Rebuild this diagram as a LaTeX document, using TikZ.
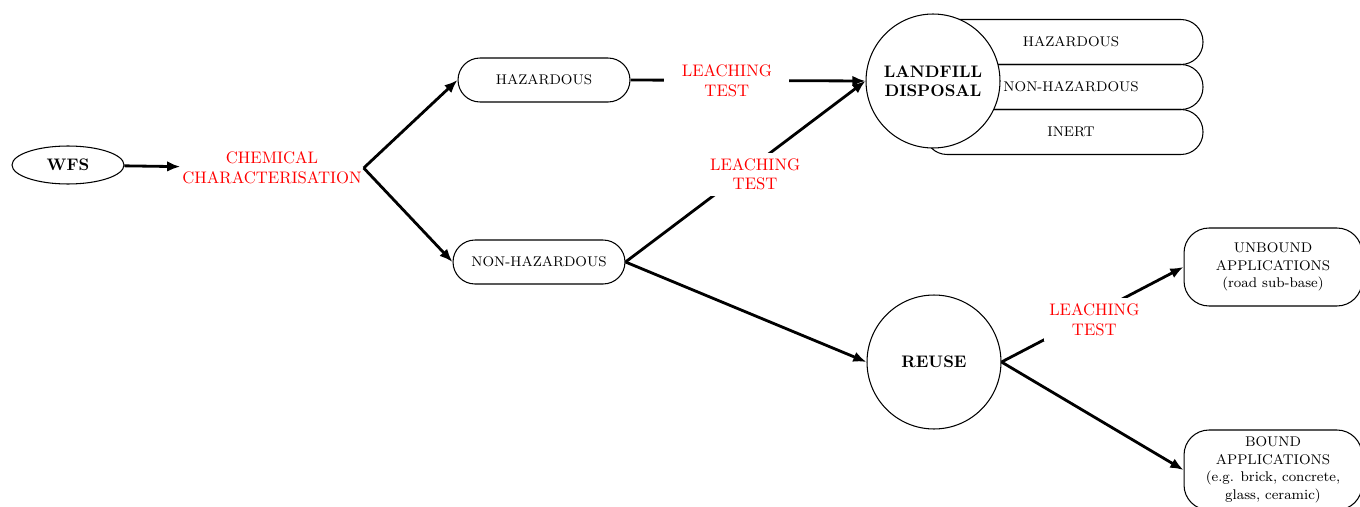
\documentclass[tikz,border=0pt]{standalone}
\usetikzlibrary{arrows.meta,shapes.geometric}

\begin{document}
\begin{tikzpicture}[x=0.02cm,y=-0.02cm,
  flow/.style={line width=1.6pt,-{Latex[length=7.5pt,width=6pt]}},
  pill/.style={draw,line width=0.6pt,rounded corners=0.44cm,minimum width=3.44cm,minimum height=0.88cm,font=\fontsize{8}{10}\selectfont},
  appbox/.style={draw,line width=0.6pt,rounded corners=0.5cm,minimum width=3.56cm,inner sep=2pt,align=center,font=\fontsize{8}{10}\selectfont},
  hub/.style={draw,circle,line width=0.6pt,fill=white,minimum size=2.68cm,inner sep=0pt,align=center,font=\fontsize{9.5}{11}\selectfont\bfseries},
  redlbl/.style={text=red,fill=white,align=center,inner sep=3pt,font=\fontsize{9.5}{11.3}\selectfont}]
\useasboundingbox (0,0) rectangle (1360,507);

% source and first test
\node[draw,ellipse,line width=0.6pt,minimum width=2.24cm,minimum height=0.76cm,font=\fontsize{9.5}{11}\selectfont\bfseries] (wfs) at (68,165) {WFS};
\node[text=red,align=center,inner sep=1pt,font=\fontsize{9.5}{11.3}\selectfont] (chem) at (272,168) {CHEMICAL\\CHARACTERISATION};
\node[pill] (haz) at (544,80) {HAZARDOUS};
\node[pill] (nonhaz) at (539,262) {NON-HAZARDOUS};

% landfill classes behind the circle
\node[pill,minimum width=5.56cm,minimum height=0.9cm] (lfhaz) at (1064,42) {\hspace{8pt}HAZARDOUS};
\node[pill,minimum width=5.56cm,minimum height=0.9cm] (lfnon) at (1064,87) {\hspace{8pt}NON-HAZARDOUS};
\node[pill,minimum width=5.56cm,minimum height=0.9cm] (lfinert) at (1064,132) {\hspace{8pt}INERT};
\node[hub] (landfill) at (933,81) {LANDFILL\\DISPOSAL};

% reuse routes
\node[hub] (reuse) at (934,362) {REUSE};
\node[appbox,minimum height=1.56cm] (unbound) at (1273,267) {UNBOUND\\APPLICATIONS\\(road sub-base)};
\node[appbox,minimum height=1.6cm] (bound) at (1273,470) {BOUND\\APPLICATIONS\\(e.g. brick, concrete,\\glass, ceramic)};

\draw[flow] (wfs) -- (chem);
\draw[flow] (chem.east) -- (haz.west);
\draw[flow] (chem.east) -- (nonhaz.west);
\draw[flow] (haz.east) -- node[redlbl,pos=0.41,inner xsep=10pt] (leach1) {LEACHING\\TEST} (landfill.west);
\draw[flow] (nonhaz.east) -- node[redlbl,pos=0.54,yshift=-0.2cm] (leach2) {LEACHING\\TEST} (landfill.west);
\draw[flow] (nonhaz.east) -- (reuse.west);
\draw[flow] (reuse.east) -- node[redlbl,pos=0.51,yshift=-0.12cm] (leach3) {LEACHING\\TEST} (unbound.west);
\draw[flow] (reuse.east) -- (bound.west);
\end{tikzpicture}
\end{document}
